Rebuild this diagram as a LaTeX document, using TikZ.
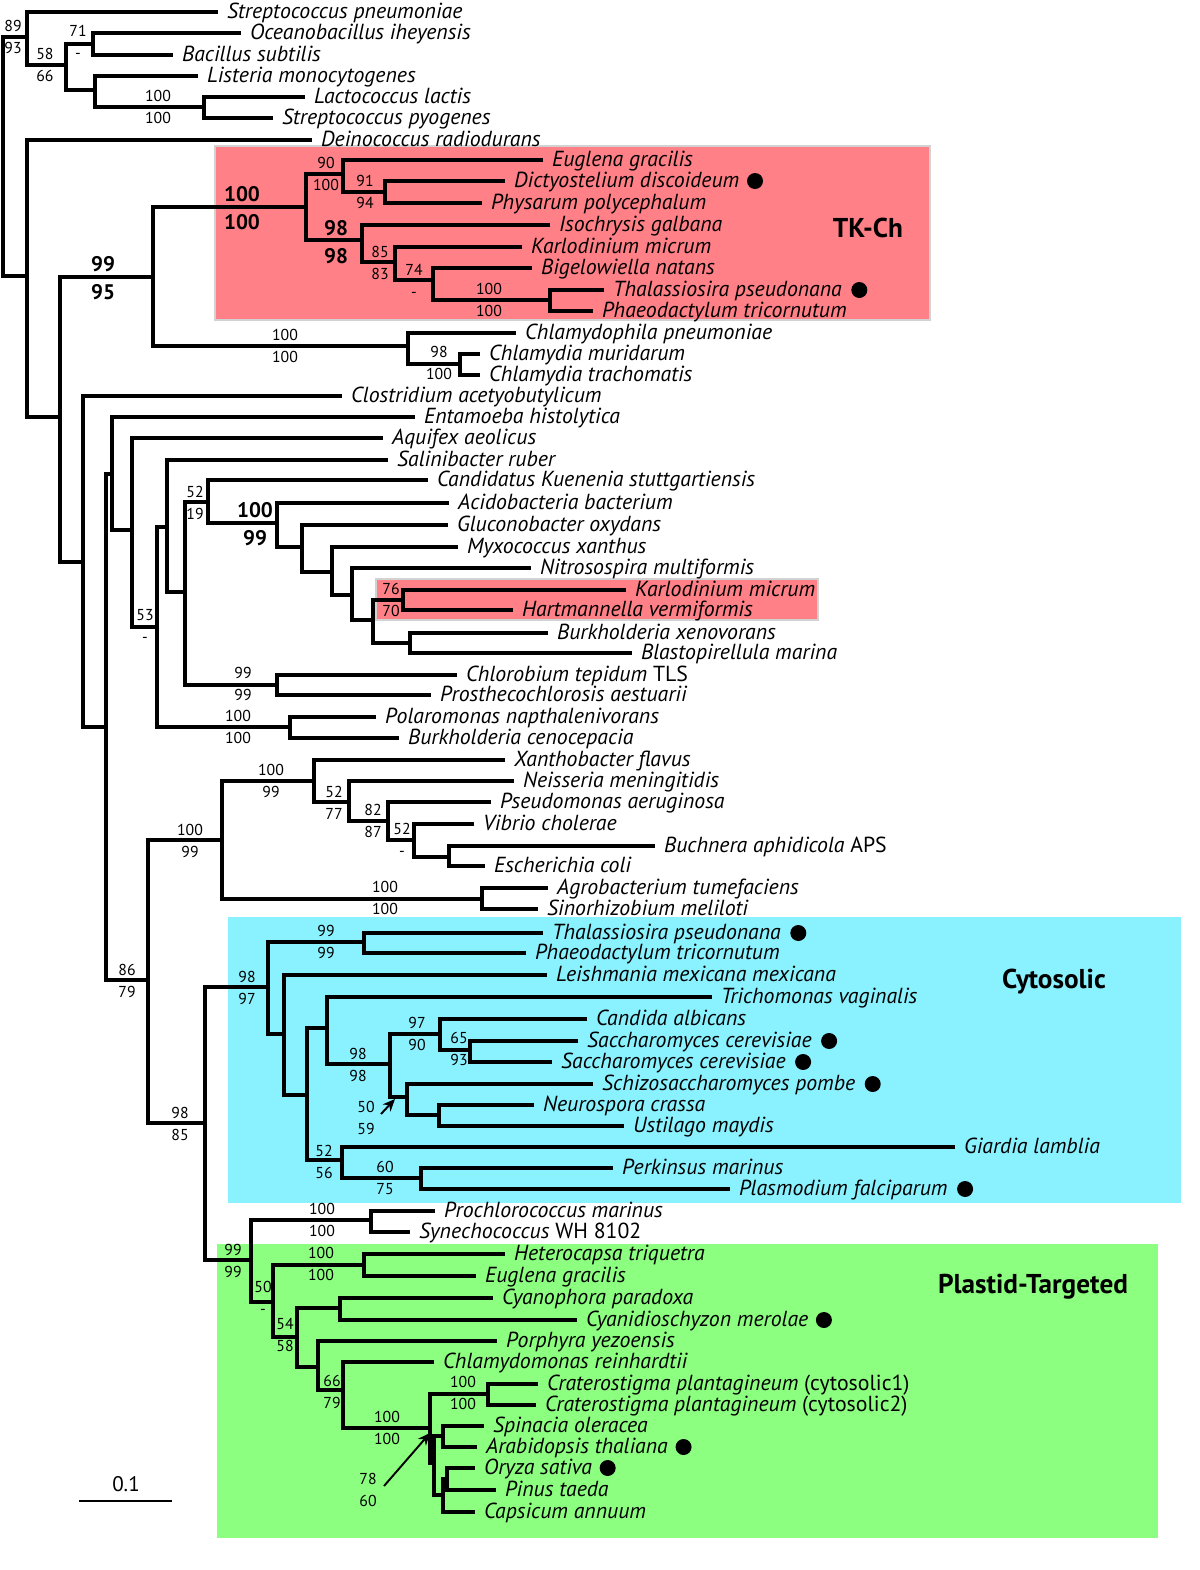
\documentclass[tikz,border=0pt]{standalone}
\usepackage{fontspec}
\setmainfont{PT Sans}
\usetikzlibrary{arrows.meta,positioning}
\definecolor{tkpink}{HTML}{FF8086}
\definecolor{cytocyan}{HTML}{8AF2FF}
\definecolor{plastgreen}{HTML}{8CFF80}
\definecolor{boxedge}{HTML}{D2D2D2}
\tikzset{
  branch/.style={line width=2pt, line join=miter},
  leaf/.style={
    anchor=west,
    inner xsep=5pt,
    inner ysep=0pt,
    text height=9pt,
    text depth=1.4pt,
    font=\fontsize{12.4}{14}\selectfont\itshape
  },
  boot/.style={inner sep=0pt, text height=6.5pt, text depth=0pt, font=\fontsize{9}{10}\selectfont},
  bootbold/.style={inner sep=0pt, text height=8.5pt, text depth=0pt, font=\fontsize{12}{13}\selectfont\bfseries},
  marker/.style={circle, fill=black, inner sep=0pt, minimum size=0.32cm},
  grouplabel/.style={font=\fontsize{15.5}{18}\selectfont\bfseries},
  pointer/.style={-{Stealth[length=7pt,width=6pt]}, line width=1.1pt},
  scalebar/.style={line width=0.8pt}
}
% support values: name, x, y of branch, value above, value below
\newcommand{\bsv}[5]{%
  \node[boot] (#1t) at (#2,#3-11) {#4};
  \node[boot] (#1b) at (#2,#3+11) {#5};}
\newcommand{\bsvb}[5]{%
  \node[bootbold] (#1t) at (#2,#3-14) {#4};
  \node[bootbold] (#1b) at (#2,#3+14) {#5};}

\begin{document}
\begin{tikzpicture}[x=0.02cm, y=-0.02cm]
  \useasboundingbox[fill=white] (0,0) rectangle (1200,1570);

  % clade boxes
  \fill[tkpink, draw=boxedge, line width=1.2pt] (215,146) rectangle (930,320);
  \fill[tkpink, draw=boxedge, line width=1.2pt] (376,579) rectangle (818,620);
  \fill[cytocyan] (228,917) rectangle (1181,1203);
  \fill[plastgreen] (217,1244) rectangle (1158,1538);

  \node[grouplabel] (tkch) at (868,228) {TK-Ch};
  \node[grouplabel] (cyto) at (1054,982) {Cytosolic};
  \node[grouplabel] (plast) at (1033,1287) {Plastid-Targeted};

  % leaves
  \node[leaf] (spneu) at (218,12) {Streptococcus pneumoniae};
  \node[leaf] (ocean) at (241,33) {Oceanobacillus iheyensis};
  \node[leaf] (bsub) at (173,55) {Bacillus subtilis};
  \node[leaf] (list) at (198,76) {Listeria monocytogenes};
  \node[leaf] (lacto) at (305,97) {Lactococcus lactis};
  \node[leaf] (spyo) at (273,118) {Streptococcus pyogenes};
  \node[leaf] (deino) at (312,140) {Deinococcus radiodurans};
  \node[leaf] (eugl) at (543,160) {Euglena gracilis};
  \node[leaf] (dicty) at (505,181) {Dictyostelium discoideum};
  \node[leaf] (phys) at (482,203) {Physarum polycephalum};
  \node[leaf] (isoch) at (550,225) {Isochrysis galbana};
  \node[leaf] (karlo) at (522,247) {Karlodinium micrum};
  \node[leaf] (bigel) at (532,268) {Bigelowiella natans};
  \node[leaf] (thal) at (604,290) {Thalassiosira pseudonana};
  \node[leaf] (phaeo) at (593,311) {Phaeodactylum tricornutum};
  \node[leaf] (chlph) at (516,333) {Chlamydophila pneumoniae};
  \node[leaf] (cmuri) at (480,354) {Chlamydia muridarum};
  \node[leaf] (ctrach) at (480,375) {Chlamydia trachomatis};
  \node[leaf] (clost) at (342,396) {Clostridium acetyobutylicum};
  \node[leaf] (entam) at (415,417) {Entamoeba histolytica};
  \node[leaf] (aquif) at (383,438) {Aquifex aeolicus};
  \node[leaf] (salin) at (388,460) {Salinibacter ruber};
  \node[leaf] (candk) at (428,480) {Candidatus Kuenenia stuttgartiensis};
  \node[leaf] (acido) at (449,503) {Acidobacteria bacterium};
  \node[leaf] (gluco) at (448,525) {Gluconobacter oxydans};
  \node[leaf] (myxo) at (458,547) {Myxococcus xanthus};
  \node[leaf] (nitro) at (531,568) {Nitrosospira multiformis};
  \node[leaf] (karlo2) at (626,590) {Karlodinium micrum};
  \node[leaf] (hartm) at (513,610) {Hartmannella vermiformis};
  \node[leaf] (bxeno) at (548,633) {Burkholderia xenovorans};
  \node[leaf] (blasto) at (632,653) {Blastopirellula marina};
  \node[leaf] (chlor) at (457,675) {Chlorobium tepidum {\upshape TLS}};
  \node[leaf] (prost) at (431,695) {Prosthecochlorosis aestuarii};
  \node[leaf] (polar) at (376,717) {Polaromonas napthalenivorans};
  \node[leaf] (bceno) at (399,738) {Burkholderia cenocepacia};
  \node[leaf] (xanth) at (505,760) {Xanthobacter flavus};
  \node[leaf] (neiss) at (514,781) {Neisseria meningitidis};
  \node[leaf] (pseud) at (491,802) {Pseudomonas aeruginosa};
  \node[leaf] (vibrio) at (474,824) {Vibrio cholerae};
  \node[leaf] (buchn) at (655,846) {Buchnera aphidicola {\upshape APS}};
  \node[leaf] (ecoli) at (485,866) {Escherichia coli};
  \node[leaf] (agro) at (548,888) {Agrobacterium tumefaciens};
  \node[leaf] (sino) at (538,909) {Sinorhizobium meliloti};
  \node[leaf] (thal2) at (543,933) {Thalassiosira pseudonana};
  \node[leaf] (phaeo2) at (526,953) {Phaeodactylum tricornutum};
  \node[leaf] (leish) at (547,975) {Leishmania mexicana mexicana};
  \node[leaf] (trich) at (712,997) {Trichomonas vaginalis};
  \node[leaf] (candi) at (587,1019) {Candida albicans};
  \node[leaf] (scer1) at (578,1041) {Saccharomyces cerevisiae};
  \node[leaf] (scer2) at (552,1062) {Saccharomyces cerevisiae};
  \node[leaf] (schizo) at (593,1084) {Schizosaccharomyces pombe};
  \node[leaf] (neuro) at (534,1105) {Neurospora crassa};
  \node[leaf] (ustil) at (624,1126) {Ustilago maydis};
  \node[leaf] (giard) at (955,1147) {Giardia lamblia};
  \node[leaf] (perk) at (613,1168) {Perkinsus marinus};
  \node[leaf] (plasm) at (730,1189) {Plasmodium falciparum};
  \node[leaf] (prochl) at (435,1211) {Prochlorococcus marinus};
  \node[leaf] (synech) at (410,1232) {Synechococcus {\upshape WH 8102}};
  \node[leaf] (hetero) at (505,1254) {Heterocapsa triquetra};
  \node[leaf] (eugl2) at (476,1276) {Euglena gracilis};
  \node[leaf] (cyanoph) at (493,1298) {Cyanophora paradoxa};
  \node[leaf] (cyanid) at (577,1320) {Cyanidioschyzon merolae};
  \node[leaf] (porph) at (497,1341) {Porphyra yezoensis};
  \node[leaf] (chlamy) at (434,1362) {Chlamydomonas reinhardtii};
  \node[leaf] (crat1) at (538,1384) {Craterostigma plantagineum {\upshape (cytosolic1)}};
  \node[leaf] (crat2) at (536,1405) {Craterostigma plantagineum {\upshape (cytosolic2)}};
  \node[leaf] (spin) at (484,1426) {Spinacia oleracea};
  \node[leaf] (arab) at (477,1447) {Arabidopsis thaliana};
  \node[leaf] (oryza) at (475,1468) {Oryza sativa};
  \node[leaf] (pinus) at (496,1490) {Pinus taeda};
  \node[leaf] (caps) at (475,1512) {Capsicum annuum};

  % markers
  \node[marker, right=-1pt of dicty] (dictydot) {};
  \node[marker, right=0pt of thal] (thaldot) {};
  \node[marker, right=0pt of thal2] (thal2dot) {};
  \node[marker, right=0pt of scer1] (scer1dot) {};
  \node[marker, right=0pt of scer2] (scer2dot) {};
  \node[marker, right=0pt of schizo] (schizodot) {};
  \node[marker, right=0pt of plasm] (plasmdot) {};
  \node[marker, right=-1pt of cyanid] (cyaniddot) {};
  \node[marker, right=-1pt of arab] (arabdot) {};
  \node[marker, right=-1pt of oryza] (oryzadot) {};

  % internal nodes
  \coordinate (root) at (3,150);
  \coordinate (nA) at (27,37);
  \coordinate (nB) at (66,65);
  \coordinate (nC) at (93,44);
  \coordinate (nD) at (95,90);
  \coordinate (nE) at (204,107);
  \coordinate (nZ) at (27,276);
  \coordinate (n60) at (60,417);
  \coordinate (n153) at (153,277);
  \coordinate (n306) at (306,207);
  \coordinate (n343) at (343,174);
  \coordinate (n385) at (385,192);
  \coordinate (n362) at (362,240);
  \coordinate (n395) at (395,262);
  \coordinate (n433) at (433,280);
  \coordinate (n550) at (550,300);
  \coordinate (n408) at (408,346);
  \coordinate (n460) at (460,364);
  \coordinate (n83) at (83,562);
  \coordinate (n106) at (106,727);
  \coordinate (n112) at (112,474);
  \coordinate (n132) at (132,530);
  \coordinate (n157) at (157,627);
  \coordinate (n167) at (167,527);
  \coordinate (n185) at (185,592);
  \coordinate (n208) at (208,502);
  \coordinate (n277) at (277,523);
  \coordinate (n302) at (302,547);
  \coordinate (n332) at (332,572);
  \coordinate (n352) at (352,595);
  \coordinate (n373) at (373,620);
  \coordinate (n403) at (403,600);
  \coordinate (n410) at (410,643);
  \coordinate (n277c) at (277,685);
  \coordinate (n290) at (290,727);
  \coordinate (n148) at (148,980);
  \coordinate (n222) at (222,840);
  \coordinate (n314) at (314,781);
  \coordinate (n349) at (349,802);
  \coordinate (n388) at (388,821);
  \coordinate (n414) at (414,840);
  \coordinate (n449) at (449,857);
  \coordinate (n482) at (482,899);
  \coordinate (n205) at (205,1123);
  \coordinate (n268) at (268,987);
  \coordinate (n364) at (364,942);
  \coordinate (n284) at (284,1034);
  \coordinate (n307) at (307,1095);
  \coordinate (n327) at (327,1028);
  \coordinate (n390) at (390,1064);
  \coordinate (n440) at (440,1034);
  \coordinate (n470) at (470,1050);
  \coordinate (n407) at (407,1097);
  \coordinate (n439) at (439,1115);
  \coordinate (n342) at (342,1160);
  \coordinate (n421) at (421,1178);
  \coordinate (n251) at (251,1260);
  \coordinate (n371) at (371,1220);
  \coordinate (n273) at (273,1302);
  \coordinate (n364p) at (364,1265);
  \coordinate (n297) at (297,1337);
  \coordinate (n340) at (340,1308);
  \coordinate (n318) at (318,1367);
  \coordinate (n343p) at (343,1390);
  \coordinate (n430) at (430,1428);
  \coordinate (n488) at (488,1394);
  \coordinate (n434) at (434,1463);
  \coordinate (n443a) at (443,1436);
  \coordinate (n443b) at (443,1495);
  \coordinate (n447) at (447,1479);

  % branches
  \draw[branch] (nA) -| (root) |- (nZ);
  \draw[branch] (spneu.west) -| (nA) |- (nB);
  \draw[branch] (nC) -| (nB) |- (nD);
  \draw[branch] (ocean.west) -| (nC) |- (bsub.west);
  \draw[branch] (list.west) -| (nD) |- (nE);
  \draw[branch] (lacto.west) -| (nE) |- (spyo.west);
  \draw[branch] (deino.west) -| (nZ) |- (n60);
  \draw[branch] (n153) -| (n60) |- (n83);
  \draw[branch] (n306) -| (n153) |- (n408);
  \draw[branch] (n343) -| (n306) |- (n362);
  \draw[branch] (eugl.west) -| (n343) |- (n385);
  \draw[branch] (dicty.west) -| (n385) |- (phys.west);
  \draw[branch] (isoch.west) -| (n362) |- (n395);
  \draw[branch] (karlo.west) -| (n395) |- (n433);
  \draw[branch] (bigel.west) -| (n433) |- (n550);
  \draw[branch] (thal.west) -| (n550) |- (phaeo.west);
  \draw[branch] (chlph.west) -| (n408) |- (n460);
  \draw[branch] (cmuri.west) -| (n460) |- (ctrach.west);
  \draw[branch] (clost.west) -| (n83) |- (n106);
  \draw[branch] (n112) -| (n106) |- (n148);
  \draw[branch] (entam.west) -| (n112) |- (n132);
  \draw[branch] (aquif.west) -| (n132) |- (n157);
  \draw[branch] (n167) -| (n157) |- (n290);
  \draw[branch] (salin.west) -| (n167) |- (n185);
  \draw[branch] (n208) -| (n185) |- (n277c);
  \draw[branch] (candk.west) -| (n208) |- (n277);
  \draw[branch] (acido.west) -| (n277) |- (n302);
  \draw[branch] (gluco.west) -| (n302) |- (n332);
  \draw[branch] (myxo.west) -| (n332) |- (n352);
  \draw[branch] (nitro.west) -| (n352) |- (n373);
  \draw[branch] (n403) -| (n373) |- (n410);
  \draw[branch] (karlo2.west) -| (n403) |- (hartm.west);
  \draw[branch] (bxeno.west) -| (n410) |- (blasto.west);
  \draw[branch] (chlor.west) -| (n277c) |- (prost.west);
  \draw[branch] (polar.west) -| (n290) |- (bceno.west);
  \draw[branch] (n222) -| (n148) |- (n205);
  \draw[branch] (n314) -| (n222) |- (n482);
  \draw[branch] (xanth.west) -| (n314) |- (n349);
  \draw[branch] (neiss.west) -| (n349) |- (n388);
  \draw[branch] (pseud.west) -| (n388) |- (n414);
  \draw[branch] (vibrio.west) -| (n414) |- (n449);
  \draw[branch] (buchn.west) -| (n449) |- (ecoli.west);
  \draw[branch] (agro.west) -| (n482) |- (sino.west);
  \draw[branch] (n268) -| (n205) |- (n251);
  \draw[branch] (n364) -| (n268) |- (n284);
  \draw[branch] (thal2.west) -| (n364) |- (phaeo2.west);
  \draw[branch] (leish.west) -| (n284) |- (n307);
  \draw[branch] (n327) -| (n307) |- (n342);
  \draw[branch] (trich.west) -| (n327) |- (n390);
  \draw[branch] (n440) -| (n390) |- (n407);
  \draw[branch] (candi.west) -| (n440) |- (n470);
  \draw[branch] (scer1.west) -| (n470) |- (scer2.west);
  \draw[branch] (schizo.west) -| (n407) |- (n439);
  \draw[branch] (neuro.west) -| (n439) |- (ustil.west);
  \draw[branch] (giard.west) -| (n342) |- (n421);
  \draw[branch] (perk.west) -| (n421) |- (plasm.west);
  \draw[branch] (n371) -| (n251) |- (n273);
  \draw[branch] (prochl.west) -| (n371) |- (synech.west);
  \draw[branch] (n364p) -| (n273) |- (n297);
  \draw[branch] (hetero.west) -| (n364p) |- (eugl2.west);
  \draw[branch] (n340) -| (n297) |- (n318);
  \draw[branch] (cyanoph.west) -| (n340) |- (cyanid.west);
  \draw[branch] (porph.west) -| (n318) |- (n343p);
  \draw[branch] (chlamy.west) -| (n343p) |- (n430);
  \draw[branch] (n488) -| (n430) |- (n434);
  \draw[branch] (crat1.west) -| (n488) |- (crat2.west);
  \draw[branch] (n443a) -| (n434) |- (n443b);
  \draw[branch] (spin.west) -| (n443a) |- (arab.west);
  \draw[branch] (n447) -| (n443b) |- (caps.west);
  \draw[branch] (oryza.west) -| (n447) |- (pinus.west);

  % support values
  \bsv{b1}{13}{37}{89}{93}
  \bsv{b2}{45}{65}{58}{66}
  \bsv{b3}{78}{42}{71}{-}
  \bsv{b4}{158}{107}{100}{100}
  \bsvb{b5}{103}{278}{99}{95}
  \bsvb{b6}{242}{208}{100}{100}
  \bsv{b7}{326}{174}{90}{100}
  \bsv{b8}{365}{192}{91}{94}
  \bsvb{b9}{336}{242}{98}{98}
  \bsv{b10}{380}{263}{85}{83}
  \bsv{b11}{414}{281}{74}{-}
  \bsv{b12}{489}{300}{100}{100}
  \bsv{b13}{285}{346}{100}{100}
  \bsv{b14}{439}{363}{98}{100}
  \bsv{b15}{195}{503}{52}{19}
  \bsvb{b16}{255}{524}{100}{99}
  \bsv{b17}{145}{626}{53}{-}
  \bsv{b18}{243}{684}{99}{99}
  \bsv{b19}{238}{727}{100}{100}
  \bsv{b20}{391}{600}{76}{70}
  \bsv{b21}{127}{981}{86}{79}
  \bsv{b22}{190}{841}{100}{99}
  \bsv{b23}{271}{781}{100}{99}
  \bsv{b24}{334}{803}{52}{77}
  \bsv{b25}{373}{821}{82}{87}
  \bsv{b26}{402}{840}{52}{-}
  \bsv{b27}{385}{898}{100}{100}
  \bsv{b28}{180}{1124}{98}{85}
  \bsv{b29}{247}{988}{98}{97}
  \bsv{b30}{326}{942}{99}{99}
  \bsv{b31}{358}{1065}{98}{98}
  \bsv{b32}{417}{1034}{97}{90}
  \bsv{b33}{459}{1049}{65}{93}
  \bsv{b34}{324}{1162}{52}{56}
  \bsv{b35}{385}{1178}{60}{75}
  \bsv{b36}{233}{1261}{99}{99}
  \bsv{b37}{322}{1220}{100}{100}
  \bsv{b38}{263}{1298}{50}{-}
  \bsv{b39}{321}{1264}{100}{100}
  \bsv{b40}{285}{1335}{54}{58}
  \bsv{b41}{332}{1392}{66}{79}
  \bsv{b42}{387}{1428}{100}{100}
  \bsv{b43}{463}{1393}{100}{100}
  \bsv{b44}{366}{1118}{50}{59}
  \bsv{b45}{368}{1490}{78}{60}

  % pointers to short internal branches
  \coordinate (cytoarr) at (381,1114);
  \coordinate (cytotip) at (395,1099);
  \draw[pointer] (cytoarr) -- (cytotip);
  \coordinate (plastarr) at (384,1486);
  \coordinate (plasttip) at (430,1433);
  \draw[pointer] (plastarr) -- (plasttip);

  % scale bar
  \coordinate (sbl) at (79,1501);
  \coordinate (sbr) at (172,1501);
  \draw[scalebar] (sbl) -- (sbr);
  \node[font=\fontsize{12}{14}\selectfont] (sbtext) at (126,1484) {0.1};
\end{tikzpicture}
\end{document}
